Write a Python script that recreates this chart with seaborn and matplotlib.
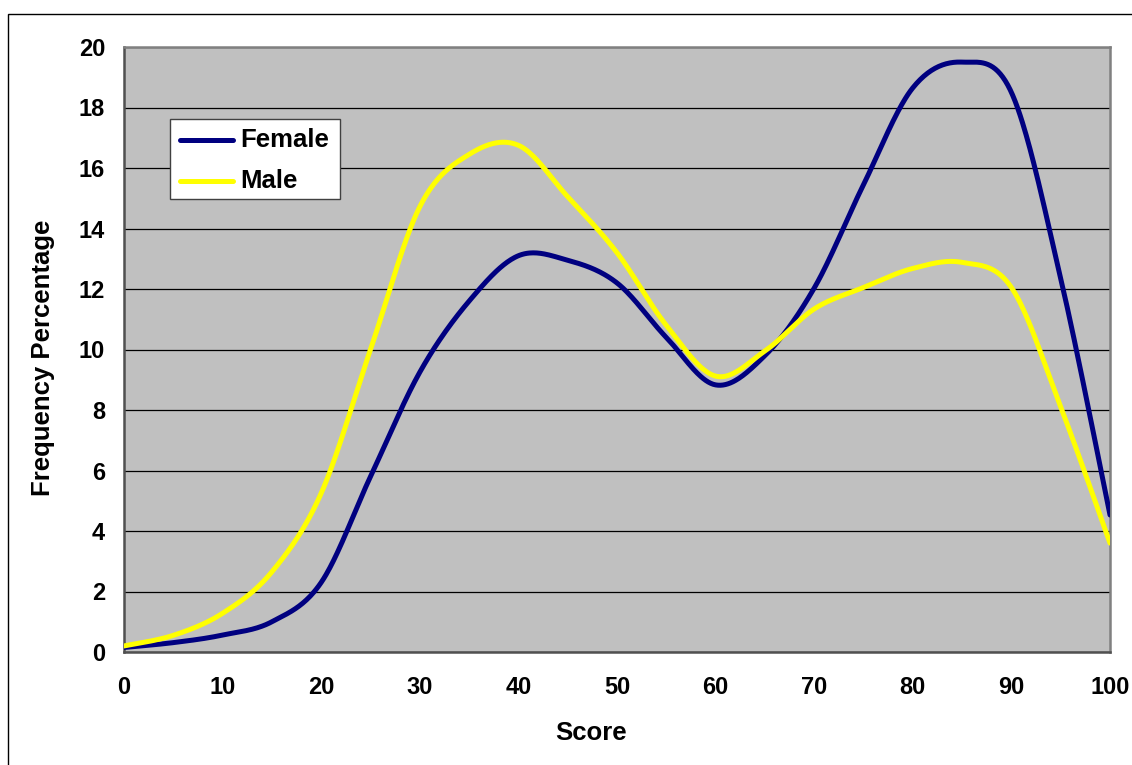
import numpy as np
import pandas as pd
import matplotlib
matplotlib.use("Agg")
import matplotlib.pyplot as plt
import seaborn as sns
from matplotlib.patches import Rectangle

# Score bins and frequency percentages per group
scores = [0, 5, 10, 15, 20, 25, 30, 35, 40, 45, 50,
          55, 60, 65, 70, 75, 80, 85, 90, 95, 100]
female = [0.15, 0.31, 0.56, 1.0, 2.3, 5.8, 9.25, 11.6, 13.1, 12.95, 12.2,
          10.4, 8.83, 9.8, 12.03, 15.45, 18.65, 19.5, 18.5, 12.35, 4.53]
male = [0.2, 0.55, 1.28, 2.65, 5.25, 10.0, 14.72, 16.45, 16.75, 15.05, 13.2,
        10.8, 9.12, 9.95, 11.34, 12.05, 12.68, 12.88, 12.05, 8.1, 3.6]

x_ticks = list(range(0, 101, 10))
y_ticks = list(range(0, 21, 2))

colors = {"Female": "#000080", "Male": "#FFFF00"}


def smooth(xs, ys, n=40):
    """Catmull-Rom curve through the points (Bezier with 1/6 tangents)."""
    p = np.column_stack([xs, ys]).astype(float)
    p = np.vstack([p[0], p, p[-1]])
    out = []
    t = np.linspace(0, 1, n, endpoint=False)[:, None]
    for i in range(1, len(p) - 2):
        p0, p1, p2, p3 = p[i - 1], p[i], p[i + 1], p[i + 2]
        c1 = p1 + (p2 - p0) / 6.0
        c2 = p2 - (p3 - p1) / 6.0
        seg = ((1 - t) ** 3) * p1 + 3 * ((1 - t) ** 2) * t * c1 \
            + 3 * (1 - t) * t ** 2 * c2 + t ** 3 * p2
        out.append(seg)
    out.append(p[-2][None, :])
    return np.vstack(out)


frames = []
for name, vals in [("Female", female), ("Male", male)]:
    curve = smooth(scores, vals)
    frames.append(pd.DataFrame({"Score": curve[:, 0], "Value": curve[:, 1],
                                "Group": name}))
df = pd.concat(frames, ignore_index=True)

sns.set_style("white")
plt.rcParams["font.family"] = ["Liberation Sans", "DejaVu Sans"]
plt.rcParams["font.weight"] = "bold"
plt.rcParams["text.color"] = "black"
plt.rcParams["xtick.color"] = "black"
plt.rcParams["ytick.color"] = "black"
plt.rcParams["xtick.labelcolor"] = "black"
plt.rcParams["ytick.labelcolor"] = "black"

W, H = 1132, 765
fig = plt.figure(figsize=(W / 100, H / 100), dpi=100)
fig.patch.set_facecolor("white")
ax = fig.add_axes([124 / W, 1 - 652 / H, (1110 - 124) / W, (652 - 47) / H])
ax.set_facecolor("#C0C0C0")

sns.lineplot(data=df, x="Score", y="Value", hue="Group", palette=colors,
             estimator=None, sort=False, units="Group", linewidth=3.6,
             legend=False, ax=ax, zorder=3)

ax.set_xlim(0, 100)
ax.set_ylim(0, 20)
ax.set_xticks(x_ticks)
ax.set_yticks(y_ticks)
ax.set_xticklabels([str(v) for v in x_ticks], fontsize=17, fontweight="bold",
                   color="black")
ax.set_yticklabels([str(v) for v in y_ticks], fontsize=17, fontweight="bold",
                   color="black")
ax.tick_params(axis="both", direction="inout", length=15, width=1.0,
               color="black")
ax.tick_params(axis="y", pad=6)
ax.tick_params(axis="x", pad=10)

ax.yaxis.grid(True, color="black", linewidth=0.9)
ax.xaxis.grid(False)
ax.set_axisbelow(True)
for side in ["left", "bottom", "right", "top"]:
    ax.spines[side].set_visible(True)
    ax.spines[side].set_color("#808080")
    ax.spines[side].set_linewidth(1.8)
ax.spines["left"].set_color("#505050")
ax.spines["bottom"].set_color("#505050")

ax.set_xlabel("")
ax.set_ylabel("")
fig.text(591 / W, 1 - 733 / H, "Score", ha="center", va="center",
         fontsize=18.5, fontweight="bold", color="black")
fig.text(43 / W, 1 - 358 / H, "Frequency Percentage", ha="center",
         va="center", rotation=90, fontsize=18.5, fontweight="bold",
         color="black")

# Legend box with sample lines
lx0, ly0, lx1, ly1 = 170, 119, 340, 199
fig.patches.append(Rectangle((lx0 / W, 1 - ly1 / H), (lx1 - lx0) / W,
                             (ly1 - ly0) / H, transform=fig.transFigure,
                             facecolor="white", edgecolor="#404040",
                             linewidth=1.0, zorder=5))
for name, yc in [("Female", 140), ("Male", 181)]:
    fig.add_artist(plt.Line2D([180 / W, 233 / W], [1 - yc / H, 1 - yc / H],
                              color=colors[name], linewidth=3.6, zorder=6))
    fig.text(240 / W, 1 - yc / H, name, ha="left", va="center",
             fontsize=18.5, fontweight="bold", color="black", zorder=6)

# Chart frame
fig.patches.append(Rectangle((8 / W, -0.05), 1.2, 1 - 14 / H + 0.05,
                             transform=fig.transFigure, facecolor="none",
                             edgecolor="black", linewidth=1.0, zorder=0))

fig.savefig("out.png", dpi=100, facecolor="white")
